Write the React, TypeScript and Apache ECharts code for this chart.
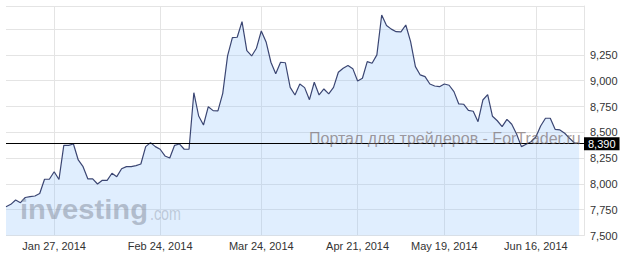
import React, { useEffect, useRef } from "react";
import * as echarts from "echarts";

// Index values (one per session, left to right)
const indexValues: number[] = [
  7779, 7802, 7844, 7818, 7868, 7876, 7883, 7907, 8045, 8045,
  8118, 8043, 8374, 8374, 8387, 8232, 8167, 8048, 8048, 7999,
  8035, 8035, 8103, 8070, 8147, 8167, 8167, 8177, 8193, 8361,
  8400, 8361, 8336, 8271, 8251, 8374, 8387, 8336, 8336, 8884,
  8658, 8571, 8748, 8710, 8707, 8878, 9240, 9417, 9421, 9572,
  9291, 9240, 9315, 9482, 9376, 9179, 9068, 9179, 9174, 8935,
  8862, 8968, 8933, 8816, 8985, 8862, 8920, 8872, 8935, 9082,
  9121, 9148, 9117, 8998, 9024, 9185, 9169, 9250, 9637, 9536,
  9500, 9475, 9473, 9540, 9378, 9136, 9056, 9039, 8968, 8949,
  8942, 8968, 8956, 8894, 8775, 8772, 8712, 8704, 8603, 8813,
  8865, 8655, 8612, 8555, 8626, 8578, 8484, 8361, 8385, 8409,
  8455, 8561, 8636, 8636, 8529, 8523, 8491, 8442, 8397, 8390,
];

// Dated x-axis tick labels, keyed by session number
const xTickLabels: Record<number, string> = {
  10: "Jan 27, 2014",
  32: "Feb 24, 2014",
  53: "Mar 24, 2014",
  73: "Apr 21, 2014",
  91: "May 19, 2014",
  110: "Jun 16, 2014",
};

const yTickLabels: string[] = ["7,500", "7,750", "8,000", "8,250", "8,500", "8,750", "9,000", "9,250"];

const lastValue = indexValues[indexValues.length - 1];
const lastLabel = "8,390";

const FONT = '"Liberation Sans", Arial, sans-serif';

const categories: string[] = [];
for (let i = 0; i <= indexValues.length; i++) categories.push(xTickLabels[i] ?? "");
const seriesData: (number | null)[] = [...indexValues, null];

const fmt = (v: number) => v.toLocaleString("en-US");

export default function App() {
  const ref = useRef<HTMLDivElement>(null);
  useEffect(() => {
    document.body.style.margin = "0";
    const chart = echarts.init(ref.current!, null, { renderer: "svg" });
    const showTick = (idx: number) => xTickLabels[idx] !== undefined;
    chart.setOption({
      animation: false,
      backgroundColor: "#ffffff",
      grid: { left: 6, top: 6, width: 578, height: 229.5, containLabel: false },
      xAxis: {
        type: "category",
        boundaryGap: false,
        data: categories,
        axisLine: { show: false },
        axisTick: { show: false },
        axisLabel: {
          interval: (idx: number) => showTick(idx),
          formatter: (v: string) => v,
          color: "#333",
          fontSize: 11,
          fontFamily: FONT,
          margin: 5,
        },
        splitLine: {
          show: true,
          interval: (idx: number) => showTick(idx),
          lineStyle: { color: "#e4e4e4", width: 1 },
        },
      },
      yAxis: {
        type: "value",
        position: "right",
        min: 7500,
        max: 9724,
        interval: 250,
        axisLine: { show: true, lineStyle: { color: "#e4e4e4" } },
        axisTick: { show: false },
        axisLabel: {
          formatter: (v: number) => (yTickLabels.includes(fmt(v)) ? fmt(v) : ""),
          showMaxLabel: false,
          color: "#333",
          fontSize: 11,
          fontFamily: FONT,
          margin: 6,
        },
        splitLine: { show: true, lineStyle: { color: "#e4e4e4", width: 1 } },
      },
      series: [
        {
          type: "line",
          data: seriesData,
          symbol: "none",
          connectNulls: false,
          lineStyle: { color: "#3b4673", width: 1.2 },
          areaStyle: { color: "rgba(145,193,250,0.4)" },
          markLine: {
            silent: true,
            symbol: ["none", "none"],
            data: [{ yAxis: lastValue }],
            lineStyle: { color: "#000", width: 1, type: "solid" },
            label: {
              position: "end",
              distance: 0,
              formatter: () => lastLabel,
              backgroundColor: "#000",
              color: "#fff",
              fontSize: 11,
              fontFamily: FONT,
              padding: [1, 4, 1, 4],
            },
          },
        },
      ],
      graphic: [
        {
          type: "text",
          z: 100,
          left: 20,
          top: 196,
          scaleX: 1.08,
          style: {
            text: "investing",
            font: `bold 27px ${FONT}`,
            fill: "rgba(130,138,155,0.5)",
          },
        },
        {
          type: "text",
          z: 100,
          left: 150,
          top: 204,
          scaleX: 0.75,
          style: {
            text: ".com",
            font: `19px ${FONT}`,
            fill: "rgba(140,148,165,0.42)",
          },
        },
        {
          type: "text",
          z: 100,
          left: 309,
          top: 130,
          style: {
            text: "Портал для трейдеров - ForTrader.ru",
            font: `16px ${FONT}`,
            fill: "rgba(115,100,100,0.65)",
          },
        },
      ],
    });
    return () => chart.dispose();
  }, []);
  return (
    <div
      ref={ref}
      style={{ position: "fixed", left: 0, top: 0, width: 625, height: 258 }}
    />
  );
}
